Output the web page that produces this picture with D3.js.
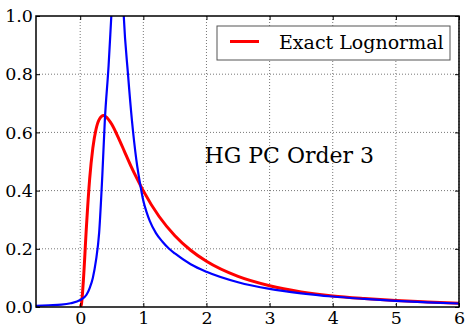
<!DOCTYPE html>
<html>
<head>
<meta charset="utf-8">
<script src="https://cdn.jsdelivr.net/npm/d3@7"></script>
<style>
  body { margin: 0; background: #fff; }
  svg text { font-family: "DejaVu Serif", serif; fill: #000; }
</style>
</head>
<body>
<div id="chart"></div>
<script>
// exact lognormal pdf
var exactX = [0, 0.02, 0.05, 0.1, 0.15, 0.2, 0.25, 0.3, 0.37, 0.45, 0.5, 0.6, 0.7, 0.8, 0.9, 1.0, 1.25, 1.5, 1.75, 2, 2.5, 3, 3.5, 4, 4.5, 5, 5.5, 6];
var exactY = [0, 0.01, 0.09, 0.28, 0.44, 0.546, 0.61, 0.644, 0.658, 0.644, 0.628, 0.584, 0.535, 0.486, 0.441, 0.399, 0.311, 0.245, 0.195, 0.157, 0.105, 0.073, 0.052, 0.038, 0.029, 0.022, 0.017, 0.013];

// HG polynomial chaos order 3 approximation
var hgX = [-0.7, -0.5, -0.3, -0.15, 0, 0.1, 0.15, 0.2, 0.25, 0.3, 0.35, 0.39, 0.45, 0.493, 0.55, 0.6, 0.65, 0.69, 0.757, 0.82, 0.89, 0.96, 1.0, 1.05, 1.1, 1.2, 1.3, 1.4, 1.5, 1.75, 2, 2.5, 3, 3.5, 4, 4.5, 5, 5.5, 6];
var hgY = [0.004, 0.006, 0.008, 0.013, 0.024, 0.042, 0.065, 0.1, 0.16, 0.255, 0.45, 0.64, 0.83, 1.0, 1.22, 1.32, 1.22, 1.0, 0.8, 0.64, 0.505, 0.41, 0.365, 0.327, 0.297, 0.254, 0.225, 0.202, 0.184, 0.147, 0.121, 0.085, 0.062, 0.047, 0.036, 0.028, 0.021, 0.016, 0.012];

var xTicks = [0, 1, 2, 3, 4, 5, 6];
var yTicks = [0.0, 0.2, 0.4, 0.6, 0.8, 1.0];

var W = 467, H = 328;
var margin = { top: 16, right: 8, bottom: 21, left: 36 };
var width = W - margin.left - margin.right;
var height = H - margin.top - margin.bottom;

var svg = d3.select("#chart").append("svg")
    .attr("width", W)
    .attr("height", H);

var g = svg.append("g")
    .attr("transform", "translate(" + margin.left + "," + margin.top + ")");

var x = d3.scaleLinear().domain([-0.7, 6]).range([0, width]);
var y = d3.scaleLinear().domain([0, 1]).range([height, 0]);

// grid
g.append("g").selectAll("line")
  .data(xTicks)
  .enter().append("line")
    .attr("x1", function(d) { return x(d); })
    .attr("x2", function(d) { return x(d); })
    .attr("y1", 0).attr("y2", height)
    .attr("stroke", "#777").attr("stroke-width", 1)
    .attr("stroke-dasharray", "1,2");

g.append("g").selectAll("line")
  .data(yTicks.slice(1, -1))
  .enter().append("line")
    .attr("y1", function(d) { return y(d); })
    .attr("y2", function(d) { return y(d); })
    .attr("x1", 0).attr("x2", width)
    .attr("stroke", "#777").attr("stroke-width", 1)
    .attr("stroke-dasharray", "1,2");

// curves, clipped to the axes box
g.append("clipPath").attr("id", "clip")
  .append("rect").attr("width", width).attr("height", height);

var line = d3.line()
    .x(function(d) { return x(d[0]); })
    .y(function(d) { return y(d[1]); })
    .curve(d3.curveMonotoneX);

var curves = g.append("g").attr("clip-path", "url(#clip)");

curves.append("path")
    .datum(d3.zip(exactX, exactY))
    .attr("fill", "none")
    .attr("stroke", "#ff0000")
    .attr("stroke-width", 3)
    .attr("d", line);

curves.append("path")
    .datum(d3.zip(hgX, hgY))
    .attr("fill", "none")
    .attr("stroke", "#0000ff")
    .attr("stroke-width", 2.2)
    .attr("d", line);

// axes with inward ticks on all four sides
var xAxis = d3.axisBottom(x).tickValues(xTicks).tickFormat(d3.format("d"))
    .tickSizeInner(-4).tickSizeOuter(0).tickPadding(5);
var yAxis = d3.axisLeft(y).tickValues(yTicks).tickFormat(d3.format(".1f"))
    .tickSizeInner(-4).tickSizeOuter(0).tickPadding(3);

var gx = g.append("g").attr("transform", "translate(0," + height + ")").call(xAxis);
var gy = g.append("g").call(yAxis);
g.append("g").call(d3.axisTop(x).tickValues(xTicks).tickFormat("").tickSizeInner(-4).tickSizeOuter(0));
g.append("g").attr("transform", "translate(" + width + ",0)")
  .call(d3.axisRight(y).tickValues(yTicks).tickFormat("").tickSizeInner(-4).tickSizeOuter(0));

g.selectAll(".domain").remove();
g.selectAll(".tick line").attr("stroke", "#000").attr("stroke-width", 1);
g.selectAll(".tick text").attr("font-size", 17.5).attr("font-family", "DejaVu Serif");

g.append("rect")
    .attr("width", width).attr("height", height)
    .attr("fill", "none").attr("stroke", "#000").attr("stroke-width", 1.5);

// legend
var legend = g.append("g").attr("transform", "translate(" + (217 - margin.left) + "," + (26 - margin.top) + ")");
legend.append("rect")
    .attr("width", 233).attr("height", 34)
    .attr("fill", "#fff").attr("stroke", "#555").attr("stroke-width", 1);
legend.append("line")
    .attr("x1", 13).attr("x2", 42).attr("y1", 15.5).attr("y2", 15.5)
    .attr("stroke", "#ff0000").attr("stroke-width", 3);
legend.append("text")
    .attr("x", 62).attr("y", 22.5)
    .attr("font-size", 19)
    .text("Exact Lognormal");

g.append("text")
    .attr("x", x(1.97)).attr("y", y(0.49) - 1)
    .attr("font-size", 22)
    .text("HG PC Order 3");
</script>
</body>
</html>
